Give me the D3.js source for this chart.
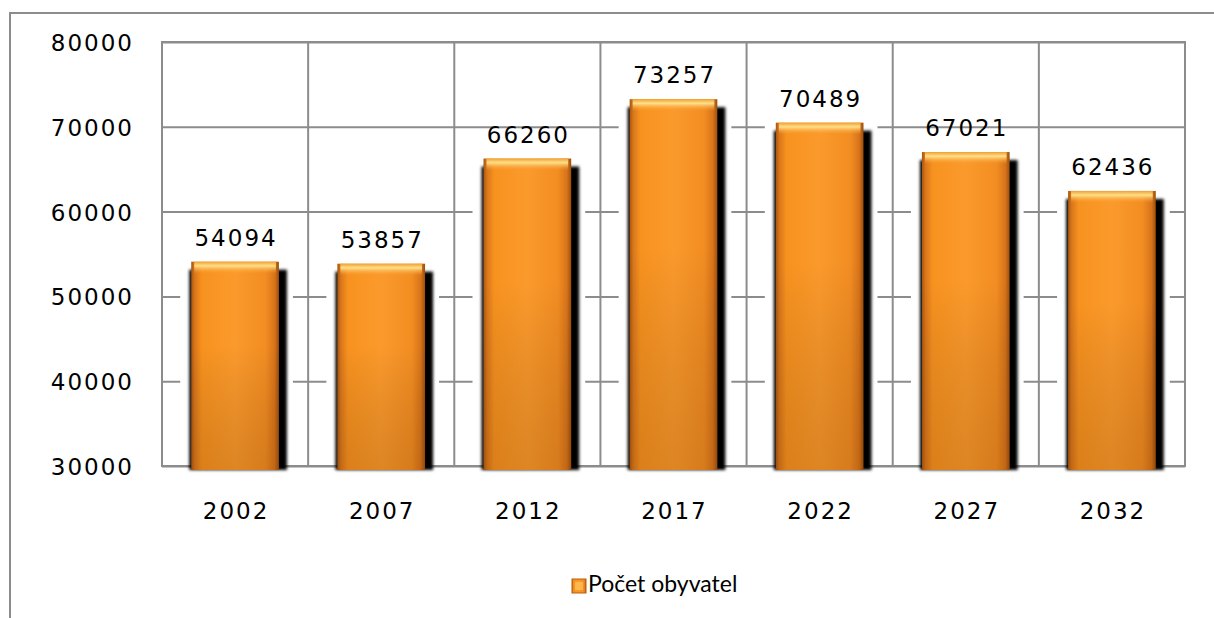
<!DOCTYPE html>
<html>
<head>
<meta charset="utf-8">
<script src="https://cdn.jsdelivr.net/npm/d3@7.9.0/dist/d3.min.js"></script>
<style>
  html, body { margin: 0; padding: 0; background: #fff; }
  svg { display: block; }
  .num { font-family: 'DejaVu Sans', Verdana, 'Noto Sans', sans-serif; font-size: 23px; letter-spacing: 2px; fill: #000; }
  .legend { font-family: Lato, 'Open Sans', sans-serif; font-size: 23px; fill: #000; }
</style>
</head>
<body>
<div id="chart"></div>
<script>
const years = ['2002', '2007', '2012', '2017', '2022', '2027', '2032'];
const population = [54094, 53857, 66260, 73257, 70489, 67021, 62436];
const yTicks = [30000, 40000, 50000, 60000, 70000, 80000];
const seriesName = 'Počet obyvatel';

const width = 1214;
const height = 618;
const plot = { left: 162, right: 1185, top: 42, bottom: 466 };

const svg = d3.select('#chart')
  .append('svg')
  .attr('width', width)
  .attr('height', height);

const defs = svg.append('defs');

// bar body: dark edges, orange middle
const gH = defs.append('linearGradient').attr('id', 'barH').attr('x1', 0).attr('x2', 1).attr('y1', 0).attr('y2', 0);
[[0, '#a8560f'], [0.04, '#d9761b'], [0.12, '#f7921f'], [0.5, '#fb9a2c'], [0.85, '#f28d22'], [0.95, '#d8741a'], [1, '#9c4f0e']]
  .forEach(([o, c]) => gH.append('stop').attr('offset', o).attr('stop-color', c));

// vertical shading on top of the body
const gV = defs.append('linearGradient').attr('id', 'barV').attr('x1', 0).attr('x2', 0).attr('y1', 0).attr('y2', 1);
[[0, '#ffffff', 0], [0.4, '#000000', 0], [1, '#5a2a00', 0.18]]
  .forEach(([o, c, a]) => gV.append('stop').attr('offset', o).attr('stop-color', c).attr('stop-opacity', a));

// top highlight
const gT = defs.append('linearGradient').attr('id', 'barTop').attr('x1', 0).attr('x2', 0).attr('y1', 0).attr('y2', 1);
[[0, '#f0a030', 1], [0.35, '#ffe08a', 1], [1, '#fb9a2c', 0]]
  .forEach(([o, c, a]) => gT.append('stop').attr('offset', o).attr('stop-color', c).attr('stop-opacity', a));

defs.append('filter').attr('id', 'blur').attr('x', '-50%').attr('y', '-10%').attr('width', '200%').attr('height', '120%')
  .append('feGaussianBlur').attr('stdDeviation', 1.6);

const x = d3.scaleBand().domain(years).range([plot.left, plot.right]).paddingInner(0).paddingOuter(0);
const y = d3.scaleLinear().domain([30000, 80000]).range([plot.bottom, plot.top]);
const barW = x.bandwidth() * 0.6;
const barX = (d) => x(d) + (x.bandwidth() - barW) / 2;

// outer chart frame (cut off at right and bottom)
svg.append('path')
  .attr('d', `M10,${height} V13 H${width}`)
  .attr('fill', 'none')
  .attr('stroke', '#8c8c8c')
  .attr('stroke-width', 2);

// horizontal gridlines
svg.append('g')
  .attr('transform', `translate(${plot.left},0)`)
  .call(d3.axisLeft(y).tickValues(yTicks).tickFormat('').tickSize(-(plot.right - plot.left)).tickSizeOuter(0))
  .call((g) => g.select('.domain').remove())
  .call((g) => g.selectAll('line').attr('stroke', '#8c8c8c').attr('stroke-width', 2));

// vertical category gridlines
svg.append('g')
  .selectAll('line')
  .data(years.slice(1))
  .join('line')
  .attr('x1', (d) => x(d)).attr('x2', (d) => x(d))
  .attr('y1', plot.top).attr('y2', plot.bottom)
  .attr('stroke', '#8c8c8c')
  .attr('stroke-width', 2);

// white halo around bars that hides the gridlines
svg.append('g')
  .selectAll('rect')
  .data(years)
  .join('rect')
  .attr('x', (d) => barX(d) - 11)
  .attr('y', (d, i) => y(population[i]))
  .attr('width', barW + 25)
  .attr('height', (d, i) => plot.bottom - 1 - y(population[i]))
  .attr('fill', '#fff');

// plot border
svg.append('rect')
  .attr('x', plot.left).attr('y', plot.top)
  .attr('width', plot.right - plot.left).attr('height', plot.bottom - plot.top)
  .attr('fill', 'none')
  .attr('stroke', '#8c8c8c')
  .attr('stroke-width', 2);

// bar shadows
svg.append('g')
  .selectAll('rect')
  .data(years)
  .join('rect')
  .attr('x', (d) => barX(d) - 2)
  .attr('y', (d, i) => y(population[i]) + 8)
  .attr('width', barW + 10)
  .attr('height', (d, i) => plot.bottom + 4 - y(population[i]) - 8)
  .attr('fill', '#000')
  .attr('filter', 'url(#blur)');

const bars = svg.append('g');
bars.selectAll('rect.body')
  .data(years)
  .join('rect')
  .attr('class', 'body')
  .attr('x', (d) => barX(d))
  .attr('y', (d, i) => y(population[i]))
  .attr('width', barW)
  .attr('height', (d, i) => plot.bottom + 4 - y(population[i]))
  .attr('fill', 'url(#barH)');

bars.selectAll('rect.shade')
  .data(years)
  .join('rect')
  .attr('class', 'shade')
  .attr('x', (d) => barX(d))
  .attr('y', (d, i) => y(population[i]))
  .attr('width', barW)
  .attr('height', (d, i) => plot.bottom + 4 - y(population[i]))
  .attr('fill', 'url(#barV)');

bars.selectAll('rect.top')
  .data(years)
  .join('rect')
  .attr('class', 'top')
  .attr('x', (d) => barX(d) + 3)
  .attr('y', (d, i) => y(population[i]))
  .attr('width', barW - 6)
  .attr('height', 12)
  .attr('fill', 'url(#barTop)');

// value labels
svg.append('g')
  .selectAll('text')
  .data(years)
  .join('text')
  .attr('class', 'num')
  .attr('x', (d) => x(d) + x.bandwidth() / 2 + 1)
  .attr('y', (d, i) => y(population[i]) - 16)
  .attr('text-anchor', 'middle')
  .text((d, i) => population[i]);

// y tick labels
svg.append('g')
  .selectAll('text')
  .data(yTicks)
  .join('text')
  .attr('class', 'num')
  .attr('x', 134)
  .attr('y', (d) => y(d) + 9)
  .attr('text-anchor', 'end')
  .text((d) => d);

// x labels
svg.append('g')
  .selectAll('text')
  .data(years)
  .join('text')
  .attr('class', 'num')
  .attr('x', (d) => x(d) + x.bandwidth() / 2 + 1)
  .attr('y', 519)
  .attr('text-anchor', 'middle')
  .text((d) => d);

// legend
const legend = svg.append('g').attr('transform', 'translate(572,579)');
legend.append('rect')
  .attr('width', 14).attr('height', 14)
  .attr('fill', 'url(#barH)')
  .attr('stroke', '#b8600f').attr('stroke-width', 1);
legend.append('rect')
  .attr('x', 3).attr('y', 3).attr('width', 8).attr('height', 8)
  .attr('fill', '#ffc45a').attr('opacity', 0.7);
legend.append('text')
  .attr('class', 'legend')
  .attr('x', 16).attr('y', 13)
  .text(seriesName);
</script>
</body>
</html>
